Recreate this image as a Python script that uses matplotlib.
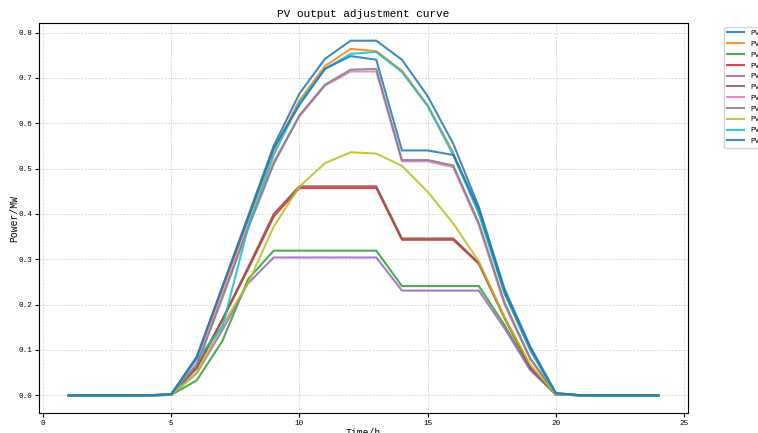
import numpy as np
import matplotlib
matplotlib.use("Agg")
import matplotlib.pyplot as plt

plt.rcParams['font.family'] = ['Liberation Mono', 'DejaVu Sans']

hours = list(range(1, 25))

# PV output per hour (MW)
pv1 = [0, 0, 0, 0, 0.002, 0.085, 0.24, 0.395, 0.55, 0.665, 0.742, 0.782,
       0.782, 0.740, 0.660, 0.555, 0.415, 0.235, 0.108, 0.005, 0, 0, 0, 0]
pv2 = [0, 0, 0, 0, 0.002, 0.083, 0.235, 0.385, 0.54, 0.65, 0.726, 0.764,
       0.759, 0.716, 0.640, 0.535, 0.405, 0.225, 0.100, 0.004, 0, 0, 0, 0]
pv3 = [0, 0, 0, 0, 0.001, 0.033, 0.120, 0.256, 0.319, 0.319, 0.319, 0.319,
       0.319, 0.241, 0.241, 0.241, 0.241, 0.155, 0.058, 0.002, 0, 0, 0, 0]
pv4 = [0, 0, 0, 0, 0.001, 0.060, 0.166, 0.278, 0.394, 0.457, 0.457, 0.457,
       0.457, 0.343, 0.343, 0.343, 0.290, 0.170, 0.062, 0.002, 0, 0, 0, 0]
pv5 = [0, 0, 0, 0, 0.001, 0.049, 0.144, 0.247, 0.304, 0.304, 0.304, 0.304,
       0.304, 0.231, 0.231, 0.231, 0.231, 0.148, 0.056, 0.002, 0, 0, 0, 0]
pv6 = [0, 0, 0, 0, 0.001, 0.062, 0.168, 0.282, 0.400, 0.461, 0.461, 0.461,
       0.461, 0.346, 0.346, 0.346, 0.292, 0.172, 0.063, 0.002, 0, 0, 0, 0]
pv7 = [0, 0, 0, 0, 0.002, 0.070, 0.222, 0.372, 0.515, 0.615, 0.683, 0.714,
       0.714, 0.516, 0.516, 0.503, 0.375, 0.200, 0.080, 0.003, 0, 0, 0, 0]
pv8 = [0, 0, 0, 0, 0.002, 0.066, 0.215, 0.368, 0.510, 0.617, 0.685, 0.718,
       0.720, 0.519, 0.519, 0.507, 0.380, 0.205, 0.082, 0.003, 0, 0, 0, 0]
pv9 = [0, 0, 0, 0, 0.001, 0.050, 0.155, 0.247, 0.372, 0.460, 0.512, 0.536,
       0.533, 0.506, 0.449, 0.379, 0.295, 0.172, 0.068, 0.002, 0, 0, 0, 0]
pv10 = [0, 0, 0, 0, 0.002, 0.080, 0.151, 0.370, 0.530, 0.645, 0.720, 0.753,
        0.757, 0.713, 0.638, 0.530, 0.400, 0.225, 0.100, 0.004, 0, 0, 0, 0]
pv11 = [0, 0, 0, 0, 0.002, 0.084, 0.238, 0.390, 0.545, 0.640, 0.720, 0.748,
        0.740, 0.540, 0.540, 0.530, 0.410, 0.230, 0.105, 0.005, 0, 0, 0, 0]

series = [pv1, pv2, pv3, pv4, pv5, pv6, pv7, pv8, pv9, pv10, pv11]
labels = ['PV%d' % (i + 1) for i in range(len(series))]

fig = plt.figure(figsize=(7.58, 4.33), dpi=100)
ax = fig.add_axes([0.0515, 0.046, 0.856, 0.901])

for vals, lab in zip(series, labels):
    ax.plot(hours, vals, linewidth=1.5, alpha=0.85, label=lab)

ax.set_title('PV output adjustment curve', fontsize=8, pad=4)
ax.set_xlabel('Time/h', fontsize=7, labelpad=1)
ax.set_ylabel('Power/MW', fontsize=7, labelpad=-1)
ax.tick_params(labelsize=5.5, length=3, pad=2)
ax.grid(True, linestyle=(0, (3, 2)), linewidth=0.5, color='#cccccc')
ax.legend(loc='upper left', bbox_to_anchor=(1.05, 1), fontsize=5.5,
          labelspacing=0.45, handlelength=2.2)

fig.savefig('out.png', dpi=100)
